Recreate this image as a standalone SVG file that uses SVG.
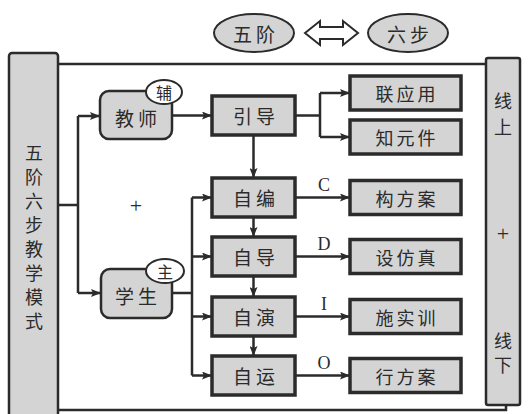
<svg xmlns="http://www.w3.org/2000/svg" width="528" height="414" viewBox="0 0 528 414">
<defs>
<marker id="ah" viewBox="0 0 10 8" refX="10" refY="4" markerWidth="10" markerHeight="8" markerUnits="userSpaceOnUse" orient="auto">
<path d="M0,0 L10,4 L0,8 L2,4 z" fill="#2b2b2b"/>
</marker>
<style>
.bar{fill:#d4d4d4;stroke:#2b2b2b;stroke-width:2.5}
.rb{fill:#d4d4d4;stroke:#2b2b2b;stroke-width:2.5}
.box{fill:#d4d4d4;stroke:#2b2b2b;stroke-width:3.5}
.ell{fill:#d4d4d4;stroke:#2b2b2b;stroke-width:2}
.tag{fill:#fff;stroke:#2b2b2b;stroke-width:2}
.ln{fill:none;stroke:#2b2b2b;stroke-width:2.5}
.ar{fill:none;stroke:#2b2b2b;stroke-width:2.5;marker-end:url(#ah)}
text{font-family:"Noto Sans CJK SC","Noto Sans",sans-serif;fill:#2b2b2b;text-anchor:middle;dominant-baseline:central}
.t20{font-size:19px;letter-spacing:4px}
.t19{font-size:18px;letter-spacing:3px}
.tv{font-size:18px}
.lat{font-family:"Liberation Serif",serif;font-size:18px}
.plus{font-family:"Liberation Serif",serif;font-size:22px}
</style>
</defs>
<g id="top">
<ellipse class="ell" cx="254" cy="33" rx="40" ry="19"/>
<text class="t20" x="256" y="33">五阶</text>
<ellipse class="ell" cx="408" cy="33" rx="40" ry="19"/>
<text class="t20" x="410" y="33">六步</text>
<polygon points="305,33 320,21 320,27 343,27 343,21 358,33 343,45 343,39 320,39 320,45" fill="#fff" stroke="#2b2b2b" stroke-width="2"/>
</g>
<g id="frame">
<path class="ln" d="M58,64 H486"/>
<path class="ln" d="M58,410 H506 V405"/>
</g>
<g id="left-bar">
<rect class="bar" x="9" y="53" width="49" height="370" rx="3"/>
<text class="tv" x="34" y="152">五</text>
<text class="tv" x="34" y="176">阶</text>
<text class="tv" x="34" y="200">六</text>
<text class="tv" x="34" y="224">步</text>
<text class="tv" x="34" y="248">教</text>
<text class="tv" x="34" y="272">学</text>
<text class="tv" x="34" y="296">模</text>
<text class="tv" x="34" y="320">式</text>
</g>
<g id="right-bar">
<rect class="rb" x="486" y="58" width="34" height="347" rx="2"/>
<text class="tv" x="503" y="100">线</text>
<text class="tv" x="503" y="126">上</text>
<text class="plus" x="503" y="233">+</text>
<text class="tv" x="503" y="340">线</text>
<text class="tv" x="503" y="364">下</text>
</g>
<g id="connectors">
<path class="ln" d="M58,205 H78 M78,116 V293"/>
<path class="ar" d="M78,116 H100"/>
<path class="ar" d="M78,293 H101"/>
<path class="ar" d="M172,115.5 H212"/>
<path class="ln" d="M295,115.5 H320 M320,93 V137"/>
<path class="ar" d="M320,93 H350"/>
<path class="ar" d="M320,137 H350"/>
<path class="ar" d="M253.5,135 V178"/>
<path class="ar" d="M253.5,217 V237"/>
<path class="ar" d="M253.5,276 V297"/>
<path class="ar" d="M253.5,336 V356"/>
<path class="ln" d="M172,293 H192 M192,197.5 V375.5"/>
<path class="ar" d="M192,197.5 H212"/>
<path class="ar" d="M192,256.5 H212"/>
<path class="ar" d="M192,316.5 H212"/>
<path class="ar" d="M192,375.5 H212"/>
<path class="ar" d="M295,197.5 H350"/>
<path class="ar" d="M295,256.5 H350"/>
<path class="ar" d="M295,316.5 H350"/>
<path class="ar" d="M295,375.5 H350"/>
<text class="lat" x="324" y="185">C</text>
<text class="lat" x="324" y="244">D</text>
<text class="lat" x="324" y="304">I</text>
<text class="lat" x="324" y="363">O</text>
<text class="plus" x="136" y="205">+</text>
</g>
<g id="teacher">
<rect x="100" y="91" width="72" height="48" rx="9" class="rb"/>
<text class="t20" x="138" y="117">教师</text>
<ellipse class="tag" cx="164" cy="92" rx="18" ry="12"/>
<text x="164" y="92" font-size="16">辅</text>
</g>
<g id="student">
<rect x="101" y="269" width="71" height="49" rx="9" class="rb"/>
<text class="t20" x="138" y="295">学生</text>
<ellipse class="tag" cx="165" cy="271" rx="19" ry="12"/>
<text x="165" y="271" font-size="16">主</text>
</g>
<g id="yindao"><rect class="box" x="212" y="96" width="83" height="39"/><text class="t20" x="256" y="115.5">引导</text></g>
<g id="zibian"><rect class="box" x="212" y="178" width="83" height="39"/><text class="t20" x="256" y="197.5">自编</text></g>
<g id="zidao"><rect class="box" x="212" y="237" width="83" height="39"/><text class="t20" x="256" y="256.5">自导</text></g>
<g id="ziyan"><rect class="box" x="212" y="297" width="83" height="39"/><text class="t20" x="256" y="316.5">自演</text></g>
<g id="ziyun"><rect class="box" x="212" y="356" width="83" height="39"/><text class="t20" x="256" y="375.5">自运</text></g>
<g id="lianyingyong"><rect class="box" x="350" y="76" width="111" height="34"/><text class="t19" x="407" y="93">联应用</text></g>
<g id="zhiyuanjian"><rect class="box" x="350" y="120" width="111" height="34"/><text class="t19" x="407" y="137">知元件</text></g>
<g id="goufangan"><rect class="box" x="350" y="180.5" width="111" height="34"/><text class="t19" x="407" y="197.5">构方案</text></g>
<g id="shefangzhen"><rect class="box" x="350" y="239.5" width="111" height="34"/><text class="t19" x="407" y="256.5">设仿真</text></g>
<g id="shishixun"><rect class="box" x="350" y="299.5" width="111" height="34"/><text class="t19" x="407" y="316.5">施实训</text></g>
<g id="xingfangan"><rect class="box" x="350" y="358.5" width="111" height="34"/><text class="t19" x="407" y="375.5">行方案</text></g>
</svg>
